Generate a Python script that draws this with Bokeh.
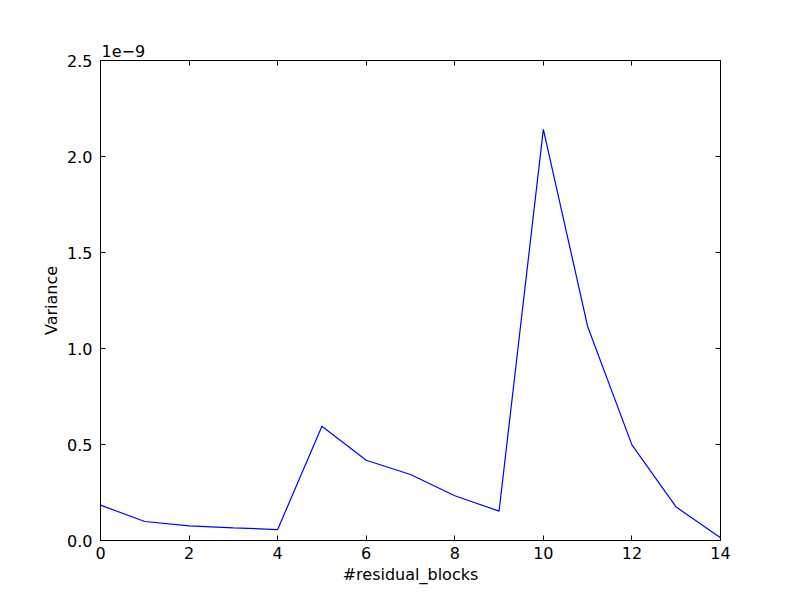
from bokeh.plotting import figure
from bokeh.models import LinearAxis, FixedTicker, Range1d
from bokeh.embed import file_html
from bokeh.resources import INLINE

# Data (variance in units of 1e-9)
residual_blocks = [0, 1, 2, 3, 4, 5, 6, 7, 8, 9, 10, 11, 12, 13, 14]
variance_e9 = [0.184, 0.099, 0.076, 0.066, 0.057, 0.595, 0.418, 0.344, 0.233, 0.153,
               2.141, 1.115, 0.498, 0.174, 0.014]
x_ticks = [0, 2, 4, 6, 8, 10, 12, 14]
y_ticks = [0.0, 0.5, 1.0, 1.5, 2.0, 2.5]
y_tick_labels = {0.0: "0.0", 0.5: "0.5", 1.0: "1.0", 1.5: "1.5", 2.0: "2.0", 2.5: "2.5"}

FONT = "DejaVu Sans"
FS = "16px"

p = figure(width=784, height=586, output_backend="svg", toolbar_location=None,
           x_range=Range1d(0, 14), y_range=Range1d(0, 2.5),
           min_border_left=100, min_border_right=64, min_border_top=60, min_border_bottom=44,
           x_axis_label="#residual_blocks", y_axis_label="Variance",
           title="1e\u22129")
p.grid.visible = False
p.outline_line_color = "black"
p.outline_line_width = 1
p.background_fill_color = "white"
p.border_fill_color = "white"

p.title.text_font = FONT
p.title.text_font_size = FS
p.title.text_font_style = "normal"
p.title.text_color = "black"
p.title.align = "left"
p.title.offset = 1
p.title.standoff = 7

p.line(residual_blocks, variance_e9, line_color="#0000ff", line_width=1.2)

def style_axis(ax, ticks, show_labels):
    ax.ticker = FixedTicker(ticks=ticks)
    ax.major_tick_in = 5
    ax.major_tick_out = 0
    ax.minor_tick_in = 0
    ax.minor_tick_out = 0
    ax.axis_line_color = "black"
    ax.major_tick_line_color = "black"
    ax.major_label_text_font = FONT
    ax.major_label_text_font_size = FS
    ax.major_label_text_color = "black" if show_labels else None
    ax.axis_label_text_font = FONT
    ax.axis_label_text_font_size = FS
    ax.axis_label_text_font_style = "normal"
    ax.axis_label_text_color = "black"

style_axis(p.xaxis[0], x_ticks, True)
style_axis(p.yaxis[0], y_ticks, True)
p.xaxis[0].major_label_standoff = 6
p.xaxis[0].axis_label_standoff = 3
p.yaxis[0].major_label_standoff = 8
p.yaxis[0].axis_label_standoff = 3
p.yaxis[0].major_label_overrides = y_tick_labels

top = LinearAxis()
style_axis(top, x_ticks, False)
top.major_label_text_font_size = "0px"
top.major_label_standoff = 0
p.add_layout(top, "above")
right = LinearAxis()
style_axis(right, y_ticks, False)
right.major_label_text_font_size = "0px"
right.major_label_standoff = 0
p.add_layout(right, "right")

open("out.html", "w").write(file_html(p, INLINE))
